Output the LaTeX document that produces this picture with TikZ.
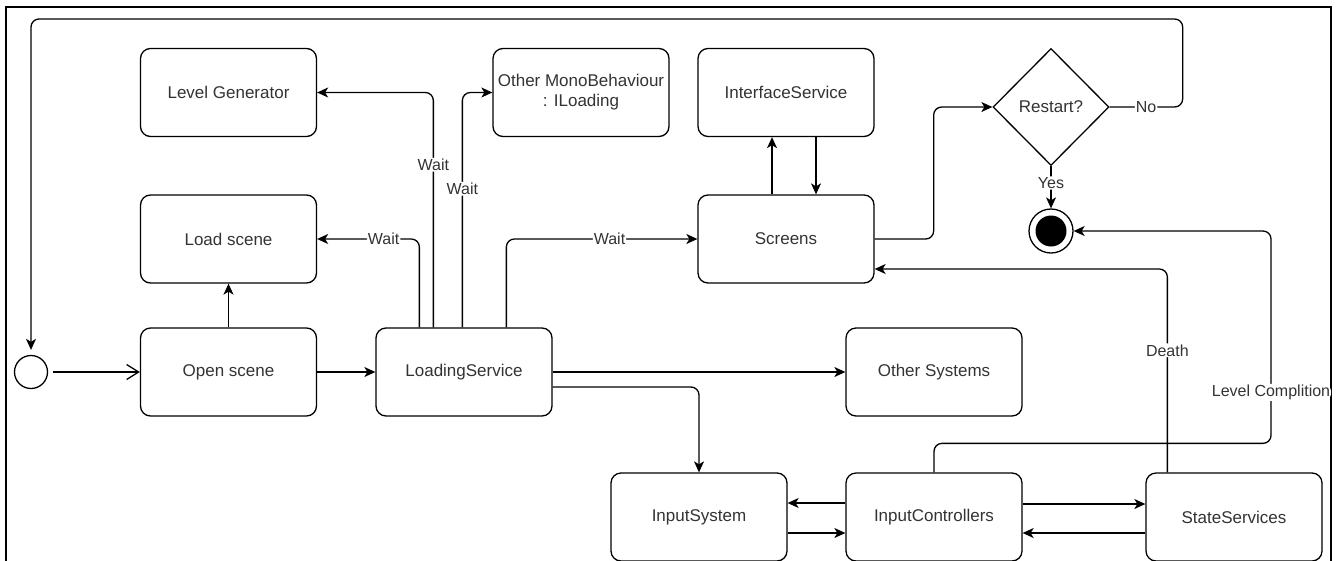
\documentclass[tikz,border=0pt]{standalone}
\usepackage{fontspec}
\setmainfont{Liberation Sans}
\usetikzlibrary{arrows.meta,shapes.geometric}

\tikzset{
  statebox/.style={draw, line width=1.3pt, rounded corners=10pt,
    minimum width=176pt, minimum height=88pt, inner sep=2pt, align=center,
    text=black!80, font=\fontsize{17pt}{20pt}\selectfont},
  decision/.style={draw, diamond, line width=1.3pt, minimum width=116pt,
    minimum height=117pt, inner sep=0pt, text=black!80,
    font=\fontsize{17pt}{20pt}\selectfont},
  initstate/.style={draw, circle, line width=1.3pt, minimum size=33pt, inner sep=0pt},
  finalstate/.style={draw, circle, line width=1.3pt, minimum size=44pt, inner sep=0pt,
    path picture={\fill (path picture bounding box.center) circle (15.5pt);}},
  flow/.style={line width=1.3pt, rounded corners=8pt,
    -{Stealth[length=11pt,width=10pt,inset=3pt]}},
  openflow/.style={line width=1.3pt, -{Straight Barb[length=12pt,width=15pt]}},
  lbl/.style={fill=white, inner sep=1pt, text=black!80,
    font=\fontsize{16pt}{18pt}\selectfont},
}

\begin{document}
\begin{tikzpicture}[x=1pt,y=-1pt]
  \useasboundingbox (0,0) rectangle (1340,560);
  % outer frame
  \draw[line width=2.2pt] (6,7) rectangle (1331,640);

  % states
  \node[statebox] (lg)    at (228.5,92.5) {Level Generator};
  \node[statebox] (load)  at (228.5,239)  {Load scene};
  \node[statebox] (open)  at (228.5,372)  {Open scene};
  \node[statebox] (ls)    at (464,372)    {LoadingService};
  \node[statebox] (mono)  at (581,92.5)   {Other MonoBehaviour\\: ILoading};
  \node[statebox] (iface) at (786,92.5)   {InterfaceService};
  \node[statebox] (scr)   at (786,239)    {Screens};
  \node[statebox] (osys)  at (934,372)    {Other Systems};
  \node[statebox] (insys) at (699,517)    {InputSystem};
  \node[statebox] (inctl) at (934,517)    {InputControllers};
  \node[statebox] (state) at (1234,517)   {StateServices};
  \node[decision] (restart) at (1051,107) {Restart?};
  \node[initstate]  (start) at (31,372) {};
  \node[finalstate] (end)   at (1051,231) {};

  % scene start
  \draw[openflow, shorten <=5pt] (start) -- (open);
  \draw[flow] (open) -- (ls);
  \draw[flow] (open) -- (load);

  % loading waits
  \draw[flow] ([xshift=44pt]ls.north west) |- node[lbl, pos=0.675] {Wait} (load.east);
  \draw[flow] ([xshift=58pt]ls.north west) |- node[lbl, pos=0.346] {Wait} (lg.east);
  \draw[flow] ([xshift=87pt]ls.north west) |- node[lbl, pos=0.295] {Wait} (mono.west);
  \draw[flow] ([xshift=131pt]ls.north west) |- node[lbl, pos=0.77] {Wait} (scr.west);

  \draw[flow] (ls.east) -- (osys.west);
  \draw[flow] ([yshift=-15pt]ls.east) -| (insys.north);

  % screens and interface
  \draw[flow] ([xshift=-14pt]scr.north) -- ([xshift=-14pt]iface.south);
  \draw[flow] ([xshift=30pt]iface.south) -- ([xshift=30pt]scr.north);

  % restart decision
  \draw[flow] (scr.east) -- ++(59,0) |- (restart.west);
  \draw[flow, shorten >=5pt] (restart.east) -- node[lbl] {No} ++(73,0)
      -- ++(0,-88) -| (start.north);
  \draw[flow] (restart.south) -- node[lbl, pos=0.4] {Yes} (end.north);

  % game outcomes
  \draw[flow] (inctl.north) -- ++(0,-29) -- ++(337,0)
      |- node[lbl, pos=0.12] {Level Complition} (end.east);
  \draw[flow] ([xshift=22pt]state.north west) |- node[lbl, pos=0.3] {Death}
      ([yshift=-30pt]scr.east);

  % input chain
  \draw[flow] ([yshift=14pt]inctl.west) -- ([yshift=14pt]insys.east);
  \draw[flow] ([yshift=-16pt]insys.east) -- ([yshift=-16pt]inctl.west);
  \draw[flow] ([yshift=13pt]inctl.east) -- ([yshift=13pt]state.west);
  \draw[flow] ([yshift=-16pt]state.west) -- ([yshift=-16pt]inctl.east);
\end{tikzpicture}
\end{document}
